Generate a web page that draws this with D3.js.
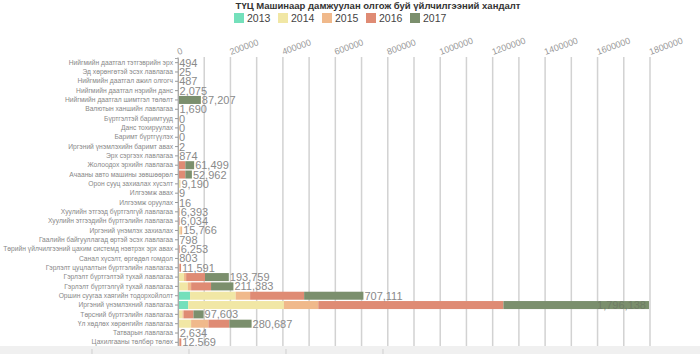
<!DOCTYPE html>
<html>
<head>
<meta charset="utf-8">
<script src="https://cdn.jsdelivr.net/npm/d3@7"></script>
<style>
  body { margin: 0; background: #fff; font-family: "Liberation Sans", Arial, sans-serif; }
  svg { display: block; }
</style>
</head>
<body>
<svg width="700" height="354"></svg>
<script>
var categories = [
  "Нийгмийн даатгал тэтгэврийн эрх",
  "Эд хөрөнгөтэй эсэх лавлагаа",
  "Нийгмийн даатгал ажил олгогч",
  "Нийгмийн даатгал нэрийн данс",
  "Нийгмийн даатгал шимтгэл төлөлт",
  "Валютын ханшийн лавлагаа",
  "Бүртгэлтэй баримтууд",
  "Данс тохируулах",
  "Баримт бүртгүүлэх",
  "Иргэний үнэмлэхийн баримт авах",
  "Эрх сэргээх лавлагаа",
  "Жолоодох эрхийн лавлагаа",
  "Ачааны авто машины зөвшөөрөл",
  "Орон сууц захиалах хүсэлт",
  "Илгээмж авах",
  "Илгээмж оруулах",
  "Хуулийн этгээд бүртгэлгүй лавлагаа",
  "Хуулийн этгээдийн бүртгэлийн лавлагаа",
  "Иргэний үнэмлэх захиалах",
  "Гаалийн байгууллагад өртэй эсэх лавлагаа",
  "Төрийн үйлчилгээний цахим системд нэвтрэх эрх авах",
  "Санал хүсэлт, өргөдөл гомдол",
  "Гэрлэлт цуцлалтын бүртгэлийн лавлагаа",
  "Гэрлэлт бүртгэлтэй тухай лавлагаа",
  "Гэрлэлт бүртгэлгүй тухай лавлагаа",
  "Оршин суугаа хаягийн тодорхойлолт",
  "Иргэний үнэмлэхний лавлагаа",
  "Төрсний бүртгэлийн лавлагаа",
  "Үл хөдлөх хөрөнгийн лавлагаа",
  "Татварын лавлагаа",
  "Цахилгааны төлбөр төлөх"
];

var years = ["2013", "2014", "2015", "2016", "2017"];
var colors = ["#74e0bb", "#f1e7a5", "#f0b98b", "#df8b74", "#7b8f6d"];

// нэг жил тутмын утгууд (зурагнаас тооцоолсон)
var v2013 = [0,0,0,0,0,0,0,0,0,0,0,0,0,0,0,0,0,0,0,0,0,0,0,3000,5000,46000,39000,2000,0,0,0];
var v2014 = [0,0,0,0,0,0,0,0,0,0,0,0,0,8000,0,0,0,0,9000,0,0,0,0,20000,32000,174000,365000,15000,50000,0,0];
var v2015 = [0,0,0,0,0,0,0,0,0,0,0,0,0,1190,0,0,6393,0,6766,0,0,0,6000,8000,13000,55000,131000,5000,66000,0,6000];
var v2016 = [0,0,0,0,0,0,0,0,0,0,0,28000,28000,0,9,16,0,6034,0,0,6253,0,5591,72000,76000,206000,706000,37000,80000,0,6569];
var v2017 = [494,25,487,2075,87207,1690,0,0,0,2,874,33499,24962,0,0,0,0,0,0,798,0,803,0,90759,85383,226111,555138,38603,84687,2634,0];

var xTicks = [0,200000,400000,600000,800000,1000000,1200000,1400000,1600000,1800000];

var series = [v2013, v2014, v2015, v2016, v2017];

var rows = categories.map(function(c, i){
  var r = { name: c };
  years.forEach(function(y, k){ r[y] = series[k][i]; });
  r.total = d3.sum(series, function(s){ return s[i]; });
  return r;
});

var svg = d3.select("svg");
var mLeft = 178, mRight = 650, mTop = 58, mBottom = 347;

var x = d3.scaleLinear().domain([0, 1800000]).range([mLeft, mRight]);
var y = d3.scaleBand().domain(categories).range([mTop, mBottom]).paddingInner(0.14).paddingOuter(0.07);

// гарчиг
svg.append("text")
  .attr("x", 378).attr("y", 9)
  .attr("text-anchor", "middle")
  .style("font-size", "9.5px").style("font-weight", "bold").style("fill", "#333")
  .text("ТҮЦ Машинаар дамжуулан олгож буй үйлчилгээний хандалт");

// тайлбар
var leg = svg.append("g").selectAll("g").data(years).enter().append("g")
  .attr("transform", function(d, i){ return "translate(" + (234 + i * 44) + ",13)"; });
leg.append("rect").attr("width", 10).attr("height", 10)
  .attr("fill", function(d, i){ return colors[i]; });
leg.append("text").attr("x", 13).attr("y", 9)
  .style("font-size", "10.5px").style("fill", "#444").text(function(d){ return d; });

// сүлжээ шугам
svg.append("g").selectAll("line").data(x.ticks(18)).enter().append("line")
  .attr("x1", function(d){ return x(d); }).attr("x2", function(d){ return x(d); })
  .attr("y1", mTop - 1).attr("y2", 346)
  .attr("stroke", "#d2d2d2").attr("stroke-width", 1.5);

// дээд тэнхлэг
var xAxis = svg.append("g")
  .attr("transform", "translate(0," + (mTop - 3) + ")")
  .call(d3.axisTop(x).tickValues(xTicks).tickSize(0).tickFormat(d3.format("d")));
xAxis.select(".domain").remove();
xAxis.selectAll("text")
  .attr("x", 0).attr("y", 0).attr("dy", 0)
  .attr("text-anchor", "start")
  .attr("transform", "rotate(-20)")
  .style("font-size", "9px").style("fill", "#999")
  .style("font-family", "Liberation Sans, Arial, sans-serif");

// баганууд
var stack = d3.stack().keys(years)(rows);
svg.append("g").selectAll("g").data(stack).enter().append("g")
  .attr("fill", function(d, i){ return colors[i]; })
  .selectAll("rect").data(function(d){ return d; }).enter().append("rect")
  .attr("x", function(d){ return x(d[0]); })
  .attr("y", function(d){ return y(d.data.name); })
  .attr("width", function(d){ return x(d[1]) - x(d[0]); })
  .attr("height", y.bandwidth());

// зүүн тэнхлэг
var yAxis = svg.append("g")
  .attr("transform", "translate(" + mLeft + ",0)")
  .call(d3.axisLeft(y).tickSize(3).tickPadding(2));
yAxis.select(".domain").attr("stroke", "#aaa");
yAxis.selectAll(".tick line").attr("stroke", "#999");
yAxis.selectAll("text")
  .style("font-size", "6.7px").style("fill", "#888")
  .style("font-family", "Liberation Sans, Arial, sans-serif");

// утгын шошго
var fmt = d3.format(",");
svg.append("g").selectAll("text").data(rows).enter().append("text")
  .attr("x", function(d){
    var e = x(d.total);
    return e + 55 > mRight ? e - 3 : e + 1;
  })
  .attr("text-anchor", function(d){ return x(d.total) + 55 > mRight ? "end" : "start"; })
  .attr("y", function(d){ return y(d.name) + y.bandwidth() / 2 + 4; })
  .style("font-size", "11px")
  .style("fill", function(d){ return x(d.total) + 55 > mRight ? "#6f7c66" : "#8a8a8a"; })
  .text(function(d){ return fmt(d.total); });

// доод саарал зурвас
svg.append("rect").attr("x", 0).attr("y", 346).attr("width", 700).attr("height", 8).attr("fill", "#f0f0f0");
svg.append("g").selectAll("line").data([92, 189, 286, 383]).enter().append("line")
  .attr("x1", function(d){ return d; }).attr("x2", function(d){ return d; })
  .attr("y1", 349).attr("y2", 354).attr("stroke", "#cfcfcf");
</script>
</body>
</html>
